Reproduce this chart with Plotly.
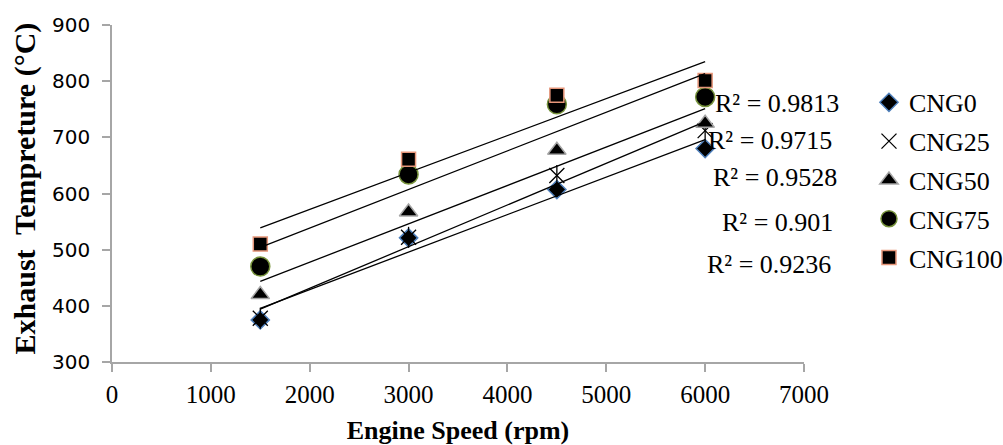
import numpy as np
import plotly.graph_objects as go

engine_speed = [1500, 3000, 4500, 6000]
cng0 = [375, 521, 607, 680]
cng25 = [378, 522, 632, 712]
cng50 = [420, 567, 677, 725]
cng75 = [470, 634, 759, 772]
cng100 = [510, 661, 775, 801]
series_names = ["CNG0", "CNG25", "CNG50", "CNG75", "CNG100"]
r2_labels = ["R² = 0.9813", "R² = 0.9715", "R² = 0.9528", "R² = 0.901", "R² = 0.9236"]
x_ticks = [0, 1000, 2000, 3000, 4000, 5000, 6000, 7000]
y_ticks = [300, 400, 500, 600, 700, 800, 900]

SERIF = "Liberation Serif, Times New Roman, serif"
SANS = "DejaVu Sans, Verdana, sans-serif"

styles = [
    dict(symbol="diamond", size=14, color="black", line=dict(color="#4F81BD", width=1.5)),
    dict(symbol="x-thin-open", size=15, color="black", line=dict(color="black", width=1.3)),
    dict(symbol="triangle-up", size=16, color="black", line=dict(color="#A6A6A6", width=1.5)),
    dict(symbol="circle", size=19, color="black", line=dict(color="#77933C", width=1.5)),
    dict(symbol="square", size=14, color="black", line=dict(color="#E6967A", width=1.5)),
]
all_series = [cng0, cng25, cng50, cng75, cng100]

fig = go.Figure()
xs = np.array(engine_speed, dtype=float)

for i, (name, ys, st) in enumerate(zip(series_names, all_series, styles)):
    fig.add_trace(go.Scatter(
        x=engine_speed, y=ys, mode="markers", name=name,
        legendgroup=name,
        marker=dict(symbol=st["symbol"], size=st["size"], color=st["color"], line=st["line"]),
    ))
    if name == "CNG25":
        fig.add_trace(go.Scatter(
            x=engine_speed, y=ys, mode="markers", showlegend=False, hoverinfo="skip",
            legendgroup=name,
            marker=dict(symbol="line-ns-open", size=15, color="black", line=dict(color="black", width=1.3)),
        ))

# linear trendlines
for name, ys in zip(series_names, all_series):
    m, b = np.polyfit(xs, np.array(ys, dtype=float), 1)
    xt = np.array([xs.min(), xs.max()])
    fig.add_trace(go.Scatter(
        x=xt, y=m * xt + b, mode="lines", showlegend=False, hoverinfo="skip",
        legendgroup=name,
        line=dict(color="black", width=1.3),
    ))

# R² label positions (layout)
r2_pos = [(6722, 761), (6661, 695), (6707, 628), (6727, 548), (6646, 473)]
for txt, (px, py) in zip(r2_labels, r2_pos):
    fig.add_annotation(x=px, y=py, xref="x", yref="y", text=txt, showarrow=False,
                       xanchor="center", yanchor="middle",
                       font=dict(family=SERIF, size=26, color="black"))

# y-axis title as rotated annotation
fig.add_annotation(x=-0.1257, y=0.515, xref="paper", yref="paper",
                   text="<b>Exhaust  Tempreture (°C)</b>", showarrow=False, textangle=-90,
                   xanchor="center", yanchor="middle",
                   font=dict(family=SERIF, size=30, color="black"))

fig.update_layout(
    width=1003, height=445,
    margin=dict(l=112, r=199, t=25, b=83, autoexpand=False),
    paper_bgcolor="white", plot_bgcolor="white",
    showlegend=True,
    legend=dict(x=1.0939, y=0.84, xanchor="left", yanchor="top",
                font=dict(family=SERIF, size=26, color="black"),
                bgcolor="rgba(0,0,0,0)", tracegroupgap=2, itemwidth=30),
    xaxis=dict(range=[0, 7000], tickvals=x_ticks, ticktext=[str(v) for v in x_ticks],
               showgrid=False, zeroline=False, showline=True, linecolor="#A6A6A6", linewidth=1.5,
               ticks="outside", ticklen=8, tickcolor="#A6A6A6", tickwidth=1.5,
               tickfont=dict(family=SERIF, size=25, color="black"), ticklabelstandoff=1,
               title=dict(text="<b>Engine Speed (rpm)</b>", font=dict(family=SERIF, size=26, color="black"), standoff=14)),
    yaxis=dict(range=[300, 900], tickvals=y_ticks,
               showgrid=False, zeroline=False, showline=True, linecolor="#A6A6A6", linewidth=1.5,
               ticks="outside", ticklen=8, tickcolor="#A6A6A6", tickwidth=1.5,
               tickfont=dict(family=SANS, size=20, color="black"), ticklabelstandoff=8),
)

fig.write_html("out.html")
